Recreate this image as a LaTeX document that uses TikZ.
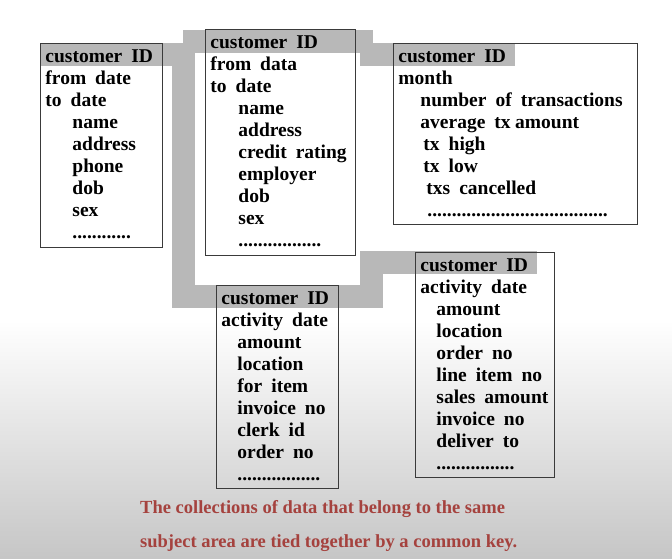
\documentclass[tikz,border=0pt]{standalone}
\usepackage{fontspec}
\setmainfont{Liberation Serif}
\usetikzlibrary{positioning, calc}
\definecolor{keygray}{HTML}{B8B8B8}
\definecolor{boxline}{HTML}{3A3A3A}
\definecolor{notered}{HTML}{A5423E}
\definecolor{fadegray}{HTML}{C6C6C6}
\pgfdeclarelayer{bg}
\pgfsetlayers{bg,main}
\newcommand{\fieldlist}[3]{\parbox[t][#2][t]{#1}{\leftskip=5pt\spaceskip=9pt\relax\rule{0pt}{19pt}#3}}

\begin{document}
\begin{tikzpicture}[
      x=1pt, y=-1pt,
      record/.style={draw=boxline, line width=0.9pt, inner sep=0pt,
        anchor=north west, font=\fontsize{19.5}{22}\selectfont\bfseries},
      keybar/.style={draw=keygray, line width=23pt, line cap=butt,
        line join=miter},
      note/.style={anchor=base west, text=notered, inner sep=0pt,
        font=\fontsize{18.5}{22}\selectfont\bfseries}
    ]
      \useasboundingbox (0,0) rectangle (672,558);

      % the five record layouts
      \node[record] (profile) at (40,43) {\fieldlist{122pt}{204pt}{customer ID\\
        from date\\to date\\\hspace*{27pt}name\\\hspace*{27pt}address\\
        \hspace*{27pt}phone\\\hspace*{27pt}dob\\\hspace*{27pt}sex\\
        \hspace*{27pt}............}};
      \node[record] (history) at (205,29) {\fieldlist{150pt}{226pt}{customer ID\\
        from data\\to date\\\hspace*{28pt}name\\\hspace*{28pt}address\\
        \hspace*{28pt}credit rating\\\hspace*{28pt}employer\\
        \hspace*{28pt}dob\\\hspace*{28pt}sex\\
        \hspace*{28pt}.................}};
      \node[record] (monthly) at (393,43) {\fieldlist{244pt}{181pt}{customer ID\\
        month\\\hspace*{22pt}number of transactions\\
        \hspace*{22pt}average {\spaceskip=4.5pt tx amount}\\
        \hspace*{25pt}tx high\\\hspace*{25pt}tx low\\
        \hspace*{28pt}txs cancelled\\
        \hspace*{29pt}.....................................}};
      \node[record] (activity) at (216,285) {\fieldlist{122pt}{203pt}{customer ID\\
        activity date\\\hspace*{16pt}amount\\\hspace*{16pt}location\\
        \hspace*{16pt}for item\\\hspace*{16pt}invoice no\\
        \hspace*{16pt}clerk id\\\hspace*{16pt}order no\\
        \hspace*{16pt}.................}};
      \node[record] (orders) at (415,252) {\fieldlist{139pt}{225pt}{customer ID\\
        activity date\\\hspace*{16pt}amount\\\hspace*{16pt}location\\
        \hspace*{16pt}order no\\\hspace*{16pt}line item no\\
        \hspace*{16pt}sales amount\\\hspace*{16pt}invoice no\\
        \hspace*{16pt}deliver to\\\hspace*{16pt}................}};

      \node[note] (noteA) at (140,513)
        {The collections of data that belong to the same};
      \node[note] (noteB) at (140,547)
        {subject area are tied together by a common key.};

      % common key bars behind the headers
      \begin{pgfonlayer}{bg}
        \fill[white] (0,0) rectangle (672,558);
        \shade[top color=white, bottom color=fadegray] (0,320) rectangle (672,558);
        \coordinate (trunk) at (183.5,296);
        \coordinate (riser) at (371.5,296);
        \draw[keybar] ([yshift=-11.5pt]profile.north west) -| (trunk) -- (riser)
          |- ([yshift=-10.5pt]orders.north west) -- ++(122,0);
        \draw[keybar] ([xshift=-22pt,yshift=-12pt]history.north west)
          -- ([xshift=17pt,yshift=-12pt]history.north east);
        \draw[keybar] ([xshift=-33pt,yshift=-11.5pt]monthly.north west)
          -- ++(155,0);
      \end{pgfonlayer}
    \end{tikzpicture}
\end{document}
